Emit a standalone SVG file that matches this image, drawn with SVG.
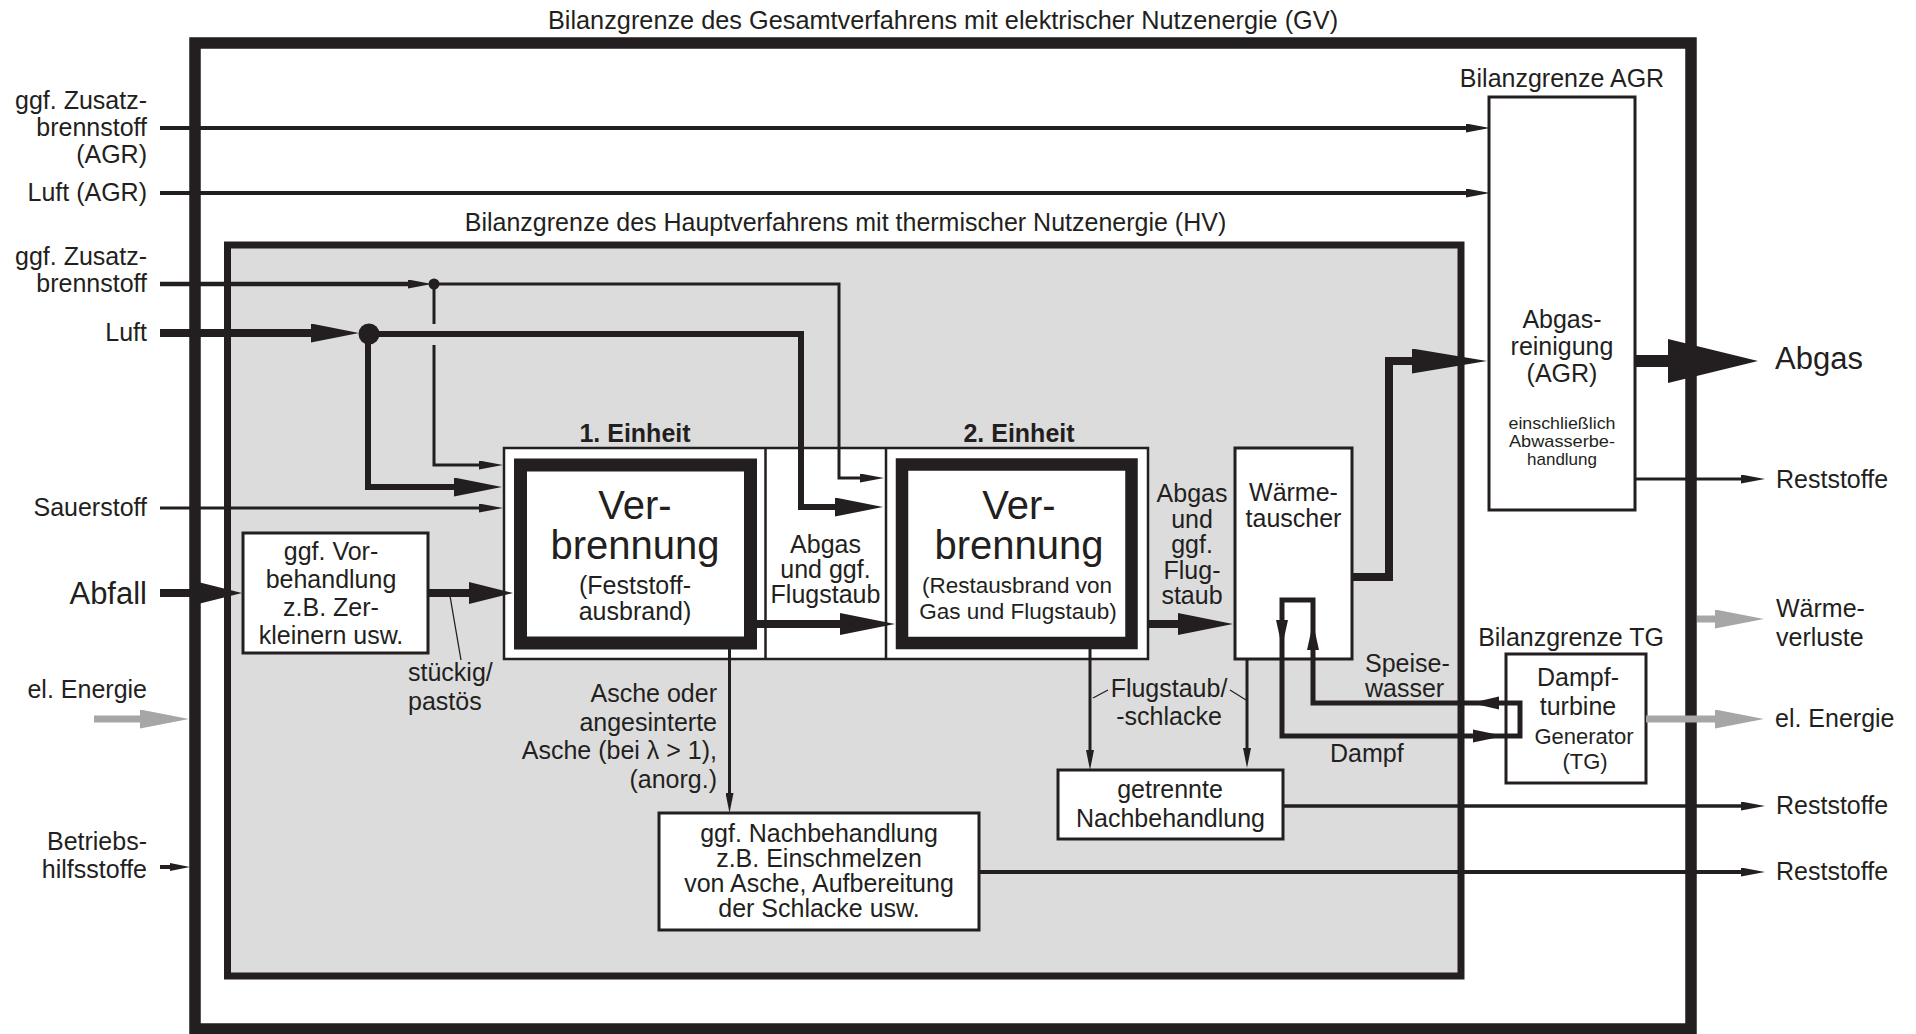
<svg xmlns="http://www.w3.org/2000/svg" width="1916" height="1034" viewBox="0 0 1916 1034">
<style>
text{font-family:"Liberation Sans",Arial,Helvetica,sans-serif;font-size:25px;fill:#231f20}
.m{text-anchor:middle}
.e{text-anchor:end}
.b{font-weight:bold}
.big{font-size:40px}
.xl{font-size:31px}
.sm{font-size:17px}
.s22{font-size:22.5px}
.box{fill:#fff;stroke:#231f20;stroke-width:3}
.ln{fill:none;stroke:#231f20;stroke-linecap:butt;stroke-linejoin:miter}
.gr{fill:none;stroke:#a6a6a6;stroke-width:7}
.ah{fill:#231f20}
</style>
<defs>
<marker id="mS" viewBox="0 0 24 9" refX="1" refY="4.5" markerWidth="24" markerHeight="9" markerUnits="userSpaceOnUse" orient="auto"><path d="M0,0 L24,4.5 L0,9 z" fill="#231f20"/></marker>
<marker id="mS2" viewBox="0 0 20 8" refX="1" refY="4" markerWidth="20" markerHeight="8" markerUnits="userSpaceOnUse" orient="auto"><path d="M0,0 L20,4 L0,8 z" fill="#231f20"/></marker>
<marker id="mT" viewBox="0 0 48 19" refX="1" refY="9.5" markerWidth="48" markerHeight="19" markerUnits="userSpaceOnUse" orient="auto"><path d="M0,0 L48,9.5 L0,19 z" fill="#231f20"/></marker>
<marker id="mA" viewBox="0 0 44 22" refX="1" refY="11" markerWidth="44" markerHeight="22" markerUnits="userSpaceOnUse" orient="auto"><path d="M0,0 L44,11 L0,22 z" fill="#231f20"/></marker>
<marker id="mB" viewBox="0 0 55 22" refX="1" refY="11" markerWidth="55" markerHeight="22" markerUnits="userSpaceOnUse" orient="auto"><path d="M0,0 L55,11 L0,22 z" fill="#231f20"/></marker>
<marker id="mC" viewBox="0 0 75 25" refX="1" refY="12.5" markerWidth="75" markerHeight="25" markerUnits="userSpaceOnUse" orient="auto"><path d="M0,0 L75,12.5 L0,25 z" fill="#231f20"/></marker>
<marker id="mD" viewBox="0 0 90 44" refX="1" refY="22" markerWidth="90" markerHeight="44" markerUnits="userSpaceOnUse" orient="auto"><path d="M0,0 L90,22 L0,44 z" fill="#231f20"/></marker>
<marker id="mG" viewBox="0 0 49 19" refX="1" refY="9.5" markerWidth="49" markerHeight="19" markerUnits="userSpaceOnUse" orient="auto"><path d="M0,0 L49,9.5 L0,19 z" fill="#a6a6a6"/></marker>
</defs>
<rect width="1916" height="1034" fill="#fff"/>

<g id="gv-frame">
<rect x="195" y="43" width="1496" height="986" fill="#fff" stroke="#231f20" stroke-width="11.5"/>
<text class="m" x="943" y="29" style="font-size:25.3px">Bilanzgrenze des Gesamtverfahrens mit elektrischer Nutzenergie (GV)</text>
</g>

<g id="hv-frame">
<rect x="227.5" y="245" width="1233.5" height="731" fill="#dcdcdc" stroke="#231f20" stroke-width="7"/>
<text class="m" x="845.5" y="231">Bilanzgrenze des Hauptverfahrens mit thermischer Nutzenergie (HV)</text>
</g>

<g id="agr">
<text class="m" x="1562" y="87">Bilanzgrenze AGR</text>
<rect class="box" x="1489" y="97" width="146" height="413"/>
<text class="m" x="1562" y="328">Abgas-</text>
<text class="m" x="1562" y="355">reinigung</text>
<text class="m" x="1562" y="382">(AGR)</text>
<text class="m sm" x="1562" y="429" textLength="107" lengthAdjust="spacingAndGlyphs">einschließlich</text>
<text class="m sm" x="1562" y="447" textLength="106" lengthAdjust="spacingAndGlyphs">Abwasserbe-</text>
<text class="m sm" x="1562" y="465">handlung</text>
</g>

<g id="tg">
<text class="m" x="1571" y="646">Bilanzgrenze TG</text>
<rect class="box" x="1506" y="654" width="140" height="129"/>
<text class="m" x="1578" y="686">Dampf-</text>
<text class="m" x="1578" y="715">turbine</text>
<text class="m" x="1584" y="744" style="font-size:22px">Generator</text>
<text class="m" x="1585" y="769" style="font-size:22px">(TG)</text>
</g>

<g id="einheiten">
<rect x="504" y="448" width="644" height="211" fill="#fff" stroke="#231f20" stroke-width="2.5"/>
<path class="ln" stroke-width="2.5" d="M765.5,448 V659 M886,448 V659"/>
<text class="m b" x="635" y="442">1. Einheit</text>
<text class="m b" x="1019" y="442">2. Einheit</text>
<text class="m" x="825.5" y="553">Abgas</text>
<text class="m" x="825.5" y="578">und ggf.</text>
<text class="m" x="825.5" y="603">Flugstaub</text>
</g>

<g id="einheit1">
<rect x="520.5" y="465" width="230" height="178" fill="#fff" stroke="#231f20" stroke-width="13"/>
<text class="m big" x="635" y="519">Ver-</text>
<text class="m big" x="635" y="559">brennung</text>
<text class="m" x="635" y="594">(Feststoff-</text>
<text class="m" x="635" y="620">ausbrand)</text>
</g>

<g id="einheit2">
<rect x="902" y="464.5" width="229.5" height="178.5" fill="#fff" stroke="#231f20" stroke-width="12.5"/>
<text class="m big" x="1019" y="519">Ver-</text>
<text class="m big" x="1019" y="559">brennung</text>
<text class="m s22" x="1017" y="593">(Restausbrand von</text>
<text class="m s22" x="1018" y="619">Gas und Flugstaub)</text>
</g>

<g id="vorbehandlung">
<rect class="box" x="243" y="533" width="185" height="120"/>
<text class="m" x="331" y="560">ggf. Vor-</text>
<text class="m" x="331" y="588">behandlung</text>
<text class="m" x="331" y="616">z.B. Zer-</text>
<text class="m" x="331" y="644">kleinern usw.</text>
</g>

<g id="nachbehandlung">
<rect class="box" x="659" y="813" width="320" height="117"/>
<text class="m" x="819" y="842">ggf. Nachbehandlung</text>
<text class="m" x="819" y="867">z.B. Einschmelzen</text>
<text class="m" x="819" y="892">von Asche, Aufbereitung</text>
<text class="m" x="819" y="917">der Schlacke usw.</text>
</g>

<g id="getrennte">
<rect class="box" x="1058" y="770" width="225" height="69"/>
<text class="m" x="1170" y="798">getrennte</text>
<text class="m" x="1170.5" y="827">Nachbehandlung</text>
</g>

<g id="waermetauscher">
<rect class="box" x="1235" y="448" width="117" height="211"/>
<text class="m" x="1293.5" y="501">Wärme-</text>
<text class="m" x="1293.5" y="527">tauscher</text>
</g>

<g id="connectors">
<path class="ln" stroke-width="4" d="M160,128 H1467" marker-end="url(#mS)"/>
<path class="ln" stroke-width="4" d="M160,193 H1467" marker-end="url(#mS)"/>
<path class="ln" stroke-width="4.5" d="M160,284 H409" marker-end="url(#mS)"/>
<path class="ln" stroke-width="3" d="M434,284 H839 V478 H861" marker-end="url(#mS)"/>
<path class="ln" stroke-width="3" d="M434,284 V324"/>
<path class="ln" stroke-width="3" d="M434,345 V465 H480" marker-end="url(#mS)"/>
<circle cx="434" cy="284" r="5.5" class="ah"/>
<path class="ln" stroke-width="8" d="M160,333 H312" marker-end="url(#mT)"/>
<path class="ln" stroke-width="6" d="M369,334 H801 V507 H836" marker-end="url(#mT)"/>
<path class="ln" stroke-width="6" d="M368,334 V487 H455" marker-end="url(#mT)"/>
<circle cx="369" cy="334" r="10.5" class="ah"/>
<path class="ln" stroke-width="3" d="M160,508 H480" marker-end="url(#mS)"/>
<path class="ln" stroke-width="8" d="M160,593 H199" marker-end="url(#mA)"/>
<path class="ln" stroke-width="8" d="M428,593 H470" marker-end="url(#mA)"/>
<path class="ln" stroke-width="8" d="M750,624 H841" marker-end="url(#mB)"/>
<path class="ln" stroke-width="8" d="M1148,624 H1179" marker-end="url(#mB)"/>
<path class="ln" stroke-width="8" d="M1352,577 H1389 V361 H1413" marker-end="url(#mC)"/>
<path class="ln" stroke-width="12" d="M1635,361 H1669" marker-end="url(#mD)"/>
<path class="ln" stroke-width="3" d="M1635,479 H1742" marker-end="url(#mS)"/>
<path class="gr" d="M1697,619 H1716" marker-end="url(#mG)"/>
<path class="gr" d="M1646,719 H1716" marker-end="url(#mG)"/>
<path class="gr" d="M94,719 H141" marker-end="url(#mG)"/>
<path class="ln" stroke-width="3.5" d="M1283,806 H1742" marker-end="url(#mS)"/>
<path class="ln" stroke-width="4" d="M979,872 H1742" marker-end="url(#mS)"/>
<path class="ln" stroke-width="4" d="M160,867 H171" marker-end="url(#mS2)"/>
<path class="ln" stroke-width="3" d="M729.5,649 V794" marker-end="url(#mS2)"/>
<path class="ln" stroke-width="3" d="M1090,649 V751" marker-end="url(#mS2)"/>
<path class="ln" stroke-width="3" d="M1247,659 V749" marker-end="url(#mS2)"/>
<path class="ln" stroke-width="5" d="M1282,600 H1313 V703 H1520 V736 H1282 Z"/>
<polygon class="ah" points="1276,620 1288,620 1282,647"/>
<polygon class="ah" points="1307,650 1319,650 1313,623"/>
<polygon class="ah" points="1499,696.5 1499,709.5 1471,703"/>
<polygon class="ah" points="1473,729.5 1473,742.5 1504,736"/>
<path class="ln" stroke-width="1.3" d="M450,596 L461,660 M1093,698 L1108,690 M1230,690 L1246,700"/>
</g>

<g id="labels">
<text class="e" x="147" y="109">ggf. Zusatz-</text>
<text class="e" x="147" y="136">brennstoff</text>
<text class="e" x="147" y="163">(AGR)</text>
<text class="e" x="147" y="201">Luft (AGR)</text>
<text class="e" x="147" y="265">ggf. Zusatz-</text>
<text class="e" x="147" y="292">brennstoff</text>
<text class="e" x="147" y="341">Luft</text>
<text class="e" x="147" y="516">Sauerstoff</text>
<text class="e xl" x="147" y="604">Abfall</text>
<text class="e" x="147" y="698">el. Energie</text>
<text class="e" x="147" y="850">Betriebs-</text>
<text class="e" x="147" y="878">hilfsstoffe</text>
<text x="408" y="681">stückig/</text>
<text x="408" y="710">pastös</text>
<text class="e" x="717" y="702">Asche oder</text>
<text class="e" x="717" y="731">angesinterte</text>
<text class="e" x="717" y="759">Asche (bei λ &gt; 1),</text>
<text class="e" x="717" y="788">(anorg.)</text>
<text class="m" x="1192" y="502">Abgas</text>
<text class="m" x="1192" y="527.5">und</text>
<text class="m" x="1192" y="553">ggf.</text>
<text class="m" x="1192" y="578.5">Flug-</text>
<text class="m" x="1192" y="604">staub</text>
<text class="m" x="1169" y="697">Flugstaub/</text>
<text class="m" x="1169" y="725">-schlacke</text>
<text x="1365" y="672">Speise-</text>
<text x="1365" y="697">wasser</text>
<text x="1330" y="762">Dampf</text>
<text class="xl" x="1775" y="369">Abgas</text>
<text x="1776" y="488">Reststoffe</text>
<text x="1776" y="617">Wärme-</text>
<text x="1776" y="646">verluste</text>
<text x="1775" y="727">el. Energie</text>
<text x="1776" y="814">Reststoffe</text>
<text x="1776" y="880">Reststoffe</text>
</g>
</svg>
